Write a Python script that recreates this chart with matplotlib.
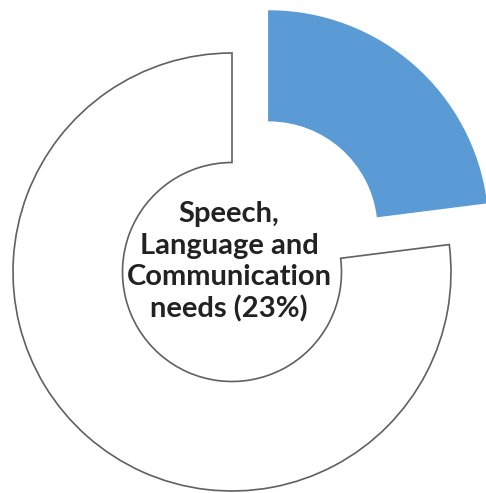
import matplotlib
matplotlib.use("Agg")
import matplotlib.pyplot as plt

labels = ["Speech, Language and Communication needs", "Other needs"]
shares = [23, 77]
colors = ["#5B9BD5", "#FFFFFF"]
explode = [0.255, 0.0]

W, H = 486, 493
CX, CY, RPX = 232, 272, 219      # centre and radius of the ring, in pixels

fig = plt.figure(figsize=(W / 100, H / 100), dpi=100)
ax = fig.add_axes([0, 0, 1, 1])

wedges, _ = ax.pie(shares, colors=colors, explode=explode, startangle=90,
                   counterclock=False, radius=1.0,
                   wedgeprops=dict(width=0.5, linewidth=1.2))
wedges[0].set_edgecolor(colors[0])
wedges[1].set_edgecolor("#606060")

ax.text((229 - CX) / RPX, (CY - 262) / RPX,
        f"Speech,\nLanguage and\nCommunication\nneeds ({shares[0]}%)",
        ha="center", va="center", fontsize=21, fontweight="bold",
        family="Lato", color="#222222", linespacing=1.25)

ax.set_xlim(-CX / RPX, (W - CX) / RPX)
ax.set_ylim(-(H - CY) / RPX, CY / RPX)
ax.set_aspect("auto")
ax.axis("off")

fig.savefig("out.png", dpi=100)
